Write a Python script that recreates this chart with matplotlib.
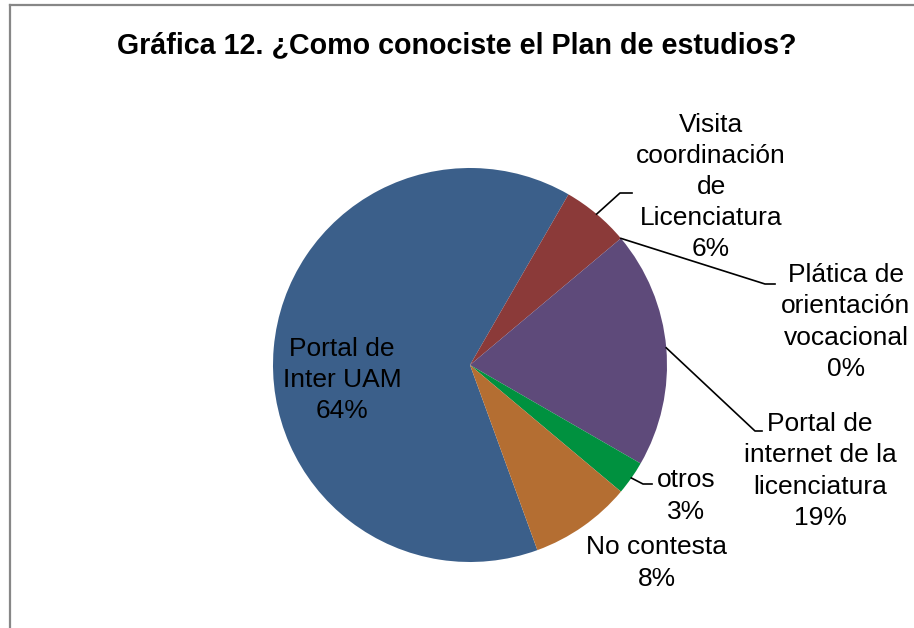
import numpy as np
import matplotlib
matplotlib.use('Agg')
import matplotlib.pyplot as plt
from matplotlib.lines import Line2D

plt.rcParams['font.family'] = ['Liberation Sans', 'DejaVu Sans']

# data (counts of answers, 36 in total)
labels = ['Portal de\nInter UAM', 'Visita\ncoordinación\nde\nLicenciatura',
          'Plática de\norientación\nvocacional', 'Portal de\ninternet de la\nlicenciatura',
          'otros', 'No contesta']
counts = [23, 2, 0, 7, 1, 3]
colors = ['#3B5F8A', '#8B3A39', '#F79646', '#5E4A7A', '#00913F', '#B46E32']

W, H = 914, 628
fig = plt.figure(figsize=(W / 100, H / 100), dpi=100)
ax = fig.add_axes([0, 0, 1, 1])

cx, cy, R = 470, H - 365, 197
start = 90 - 160  # first slice starts at about 160 deg clockwise from top
wedges, _ = ax.pie(counts, colors=colors, startangle=start, counterclock=False,
                   center=(cx, cy), radius=R, wedgeprops=dict(linewidth=0))
ax.set_xlim(0, W)
ax.set_ylim(0, H)
ax.set_aspect('equal')
ax.axis('off')

total = sum(counts)
pcts = ['%d%%' % round(100 * c / total) for c in counts]

# label text centre (pixels from top-left), elbow and end of leader line
label_pos = [(342, 380), (711, 187), (846, 322), (820, 471), (686, 496), (657, 563)]
leaders = {1: [(620, 193), (632, 193)],
           2: [(765, 284), (775, 284)],
           3: [(755, 431), (762, 431)],
           4: [(643, 484), (652, 484)]}

for i, w in enumerate(wedges):
    x, y = label_pos[i]
    ax.text(x, H - y, labels[i] + '\n' + pcts[i], ha='center', va='center',
            fontsize=19, linespacing=1.37, color='black')
    if i in leaders:
        mid = np.deg2rad((w.theta1 + w.theta2) / 2)
        px, py = cx + R * np.cos(mid), cy + R * np.sin(mid)
        xs = [px] + [p[0] for p in leaders[i]]
        ys = [py] + [H - p[1] for p in leaders[i]]
        ax.plot(xs, ys, color='black', lw=1.2)

fig.text(457 / W, 1 - 45 / H, 'Gráfica 12. ¿Como conociste el Plan de estudios?',
         ha='center', va='center', fontsize=20.6, fontweight='bold')

# chart frame (only left and top edges are visible)
fig.add_artist(Line2D([10 / W, 10 / W], [0, 1 - 5 / H], color='#878787', lw=1.6))
fig.add_artist(Line2D([10 / W, 1], [1 - 5 / H, 1 - 5 / H], color='#878787', lw=1.6))

fig.savefig('out.png', dpi=100, facecolor='white')
